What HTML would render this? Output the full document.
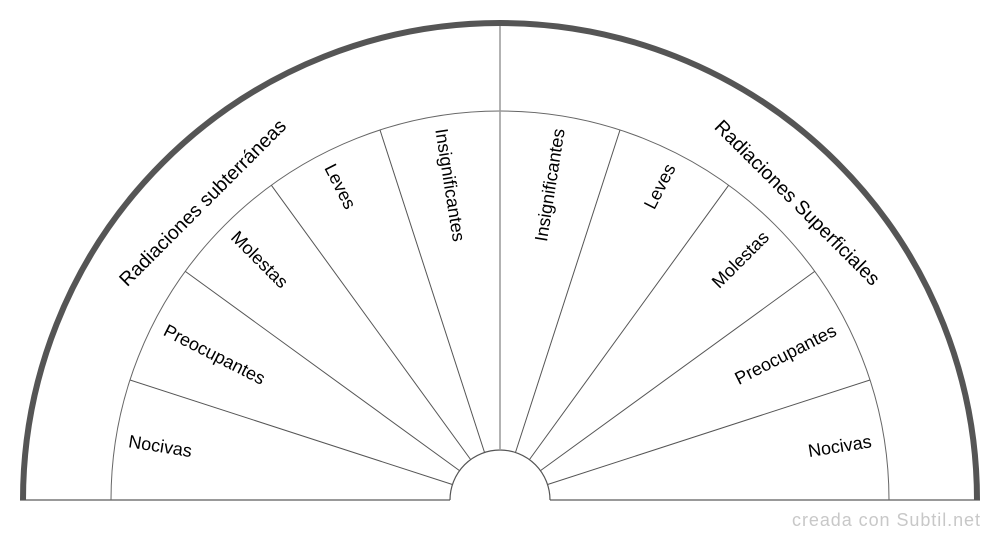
<!DOCTYPE html>
<html><head><meta charset="utf-8"><style>body{margin:0;background:#fff}svg{display:block}</style></head><body>
<svg width="1000" height="540" viewBox="0 0 1000 540" xmlns="http://www.w3.org/2000/svg" font-family="Liberation Sans, sans-serif">
<line x1="20" y1="500" x2="450" y2="500" stroke="#999" stroke-width="2"/>
<line x1="550" y1="500" x2="980" y2="500" stroke="#999" stroke-width="2"/>
<path d="M111 500 A389 389 0 0 1 889 500" fill="none" stroke="#666" stroke-width="1"/>
<path d="M450 500 A50 50 0 0 1 550 500" fill="none" stroke="#555" stroke-width="1.2"/>
<line x1="500" y1="22" x2="500" y2="450" stroke="#999" stroke-width="1.5"/>
<g stroke="#555" stroke-width="1">
<line x1="130" y1="380" x2="452.4" y2="484.5"/>
<line x1="185.3" y1="271.4" x2="459.5" y2="470.6"/>
<line x1="271.4" y1="185.3" x2="470.6" y2="459.5"/>
<line x1="380" y1="130" x2="484.5" y2="452.4"/>
<line x1="870" y1="380" x2="547.6" y2="484.5"/>
<line x1="814.7" y1="271.4" x2="540.5" y2="470.6"/>
<line x1="728.6" y1="185.3" x2="529.5" y2="459.5"/>
<line x1="620" y1="130" x2="515.5" y2="452.4"/>
</g>
<path d="M23 500 A477 477 0 0 1 977 500" fill="none" stroke="#555" stroke-width="6"/>
<g font-size="18" fill="#000">
<g transform="translate(500,500)">
<text transform="rotate(9) translate(-376,0)" dy="6">Nocivas</text>
<text transform="rotate(27) translate(-376,0)" dy="6">Preocupantes</text>
<text transform="rotate(45) translate(-376,0)" dy="6">Molestas</text>
<text transform="rotate(63) translate(-376,0)" dy="6">Leves</text>
<text transform="rotate(81) translate(-376,0)" dy="6">Insignificantes</text>
<text transform="rotate(-9) translate(376,0)" dy="6" text-anchor="end">Nocivas</text>
<text transform="rotate(-27) translate(376,0)" dy="6" text-anchor="end">Preocupantes</text>
<text transform="rotate(-45) translate(376,0)" dy="6" text-anchor="end">Molestas</text>
<text transform="rotate(-63) translate(376,0)" dy="6" text-anchor="end">Leves</text>
<text transform="rotate(-81) translate(376,0)" dy="6" text-anchor="end">Insignificantes</text>
<text transform="rotate(-45) translate(0,-420)" dy="6" text-anchor="middle" font-size="19.5">Radiaciones subterráneas</text>
<text transform="rotate(45) translate(0,-420)" dy="6" text-anchor="middle" font-size="19.5">Radiaciones Superficiales</text>
</g>
</g>
<text x="792" y="526" textLength="188" font-size="18" fill="#c8c8c8">creada con Subtil.net</text>
</svg>
</body></html>
